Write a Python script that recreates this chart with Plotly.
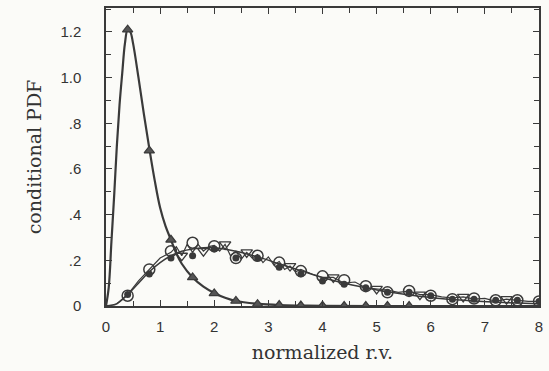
import plotly.graph_objects as go

# triangle series (fit curve + markers)
tri_line_x = [0, 0.05, 0.1, 0.15, 0.2, 0.25, 0.3, 0.35, 0.4, 0.45, 0.5, 0.6, 0.7, 0.8, 0.9, 1.0,
              1.1, 1.2, 1.3, 1.4, 1.6, 1.8, 2.0, 2.2, 2.4, 2.8, 3.2, 3.6, 4.0, 5.0, 8.0]
tri_line_y = [0, 0.08, 0.28, 0.48, 0.70, 0.88, 1.02, 1.15, 1.21, 1.20, 1.15, 1.00, 0.84, 0.69, 0.55, 0.43,
              0.35, 0.29, 0.23, 0.185, 0.125, 0.085, 0.057, 0.036, 0.022, 0.010, 0.004, 0.002, 0.001, 0.0, 0.0]
tri_x = [0.4, 0.8, 1.2, 1.6, 2.0, 2.4, 2.8, 3.2, 3.6, 4.0, 4.4, 4.8, 5.2, 5.6]
tri_y = [1.21, 0.68, 0.29, 0.125, 0.055, 0.022, 0.008, 0.004, 0.002, 0.001, 0.0, 0.0, 0.0, 0.0]

# circle series fit curve
circ_line_x = [0, 0.2, 0.4, 0.6, 0.8, 1.0, 1.2, 1.4, 1.6, 1.8, 2.0, 2.4, 2.8, 3.2, 3.6, 4.0,
               4.4, 4.8, 5.2, 5.6, 6.0, 6.4, 6.8, 7.2, 7.6, 8.0]
circ_line_y = [0, 0.01, 0.05, 0.10, 0.15, 0.19, 0.22, 0.24, 0.25, 0.255, 0.255, 0.24, 0.215, 0.185, 0.155, 0.125,
               0.10, 0.08, 0.062, 0.048, 0.037, 0.028, 0.022, 0.017, 0.013, 0.010]

circ_x = [0.4, 0.8, 1.2, 1.6, 2.0, 2.4, 2.8, 3.2, 3.6, 4.0, 4.4, 4.8, 5.2, 5.6, 6.0, 6.4, 6.8, 7.2, 7.6, 8.0]
open_circ_y = [0.045, 0.16, 0.24, 0.277, 0.262, 0.21, 0.22, 0.19, 0.153, 0.13, 0.113, 0.087, 0.06, 0.066,
               0.045, 0.03, 0.033, 0.025, 0.025, 0.02]
fill_circ_y = [0.05, 0.14, 0.21, 0.22, 0.25, 0.21, 0.21, 0.17, 0.14, 0.11, 0.095, 0.08, 0.06, 0.06,
               0.045, 0.03, 0.03, 0.025, 0.025, 0.02]

# jagged histogram-like series
jag_x = [0.2, 0.4, 0.6, 0.8, 1.0, 1.2, 1.3, 1.4, 1.5, 1.6, 1.7, 1.8, 1.9, 2.0, 2.1, 2.2, 2.3, 2.4, 2.5,
         2.6, 2.7, 2.8, 2.9, 3.0, 3.1, 3.2, 3.3, 3.4, 3.5, 3.6, 3.8, 4.0, 4.2, 4.4, 4.6, 4.8, 5.0, 5.2,
         5.4, 5.6, 5.8, 6.0, 6.2, 6.4, 6.6, 6.8, 7.0, 7.2, 7.4, 7.6, 7.8, 8.0]
jag_y = [0.01, 0.05, 0.11, 0.16, 0.21, 0.235, 0.26, 0.22, 0.27, 0.235, 0.27, 0.24, 0.26, 0.265, 0.24,
         0.27, 0.22, 0.24, 0.205, 0.235, 0.21, 0.225, 0.19, 0.215, 0.18, 0.195, 0.16, 0.175, 0.15, 0.16,
         0.14, 0.125, 0.125, 0.10, 0.105, 0.08, 0.075, 0.07, 0.06, 0.065, 0.05, 0.05, 0.04, 0.035,
         0.04, 0.03, 0.033, 0.02, 0.03, 0.025, 0.02, 0.02]
jag_mark_x = [1.4, 1.8, 2.2, 2.6, 3.4, 4.2, 5.0, 5.8, 6.6, 7.4]
jag_mark_y = [0.22, 0.24, 0.27, 0.235, 0.175, 0.125, 0.075, 0.05, 0.04, 0.03]

x_ticks = [0, 1, 2, 3, 4, 5, 6, 7, 8]
y_ticks = [0, 0.2, 0.4, 0.6, 0.8, 1.0, 1.2]
y_tick_text = ["0", ".2", ".4", ".6", ".8", "1.0", "1.2"]

ink = "#3a3a3a"
fig = go.Figure()
fig.add_trace(go.Scatter(x=tri_line_x, y=tri_line_y, mode="lines", line=dict(color=ink, width=2.2, shape="spline")))
fig.add_trace(go.Scatter(x=circ_line_x, y=circ_line_y, mode="lines", line=dict(color=ink, width=1.5, shape="spline")))
fig.add_trace(go.Scatter(x=jag_x, y=jag_y, mode="lines", line=dict(color=ink, width=1.2)))
fig.add_trace(go.Scatter(x=jag_mark_x, y=jag_mark_y, mode="markers",
                         marker=dict(symbol="triangle-down-open", size=10, color=ink, line=dict(width=1.3))))
fig.add_trace(go.Scatter(x=circ_x, y=fill_circ_y, mode="markers",
                         marker=dict(symbol="circle", size=7, color=ink)))
fig.add_trace(go.Scatter(x=circ_x, y=open_circ_y, mode="markers",
                         marker=dict(symbol="circle-open", size=11, color=ink, line=dict(width=1.5))))
fig.add_trace(go.Scatter(x=tri_x, y=tri_y, mode="markers",
                         marker=dict(symbol="triangle-up", size=9, color="#555555",
                                     line=dict(width=1.2, color=ink))))

axis_common = dict(showgrid=False, zeroline=False, showline=True, linecolor=ink, linewidth=1.5, mirror="allticks",
                   ticks="inside", ticklen=6, tickcolor=ink, tickwidth=1.3,
                   tickfont=dict(family="Liberation Sans", size=15, color="#333333"))
fig.update_xaxes(range=[0, 8], tickvals=x_ticks, ticklabelstandoff=6,
                 minor=dict(dtick=0.5, ticks="inside", ticklen=5, tickcolor=ink, tickwidth=1.2),
                 title=dict(text="normalized r.v.", font=dict(family="DejaVu Serif", size=19, color="#333333"),
                            standoff=12),
                 **axis_common)
fig.update_yaxes(range=[0, 1.305], tickvals=y_ticks, ticktext=y_tick_text, ticklabelstandoff=20,
                 minor=dict(dtick=0.1, ticks="inside", ticklen=5, tickcolor=ink, tickwidth=1.2),
                 title=dict(text="conditional PDF", font=dict(family="DejaVu Serif", size=19, color="#333333"),
                            standoff=14),
                 **axis_common)
fig.update_layout(width=549, height=371, margin=dict(l=106, r=6, t=6, b=65),
                  paper_bgcolor="#fbfbf8", plot_bgcolor="#fbfbf8", showlegend=False)
fig.write_html("out.html")
